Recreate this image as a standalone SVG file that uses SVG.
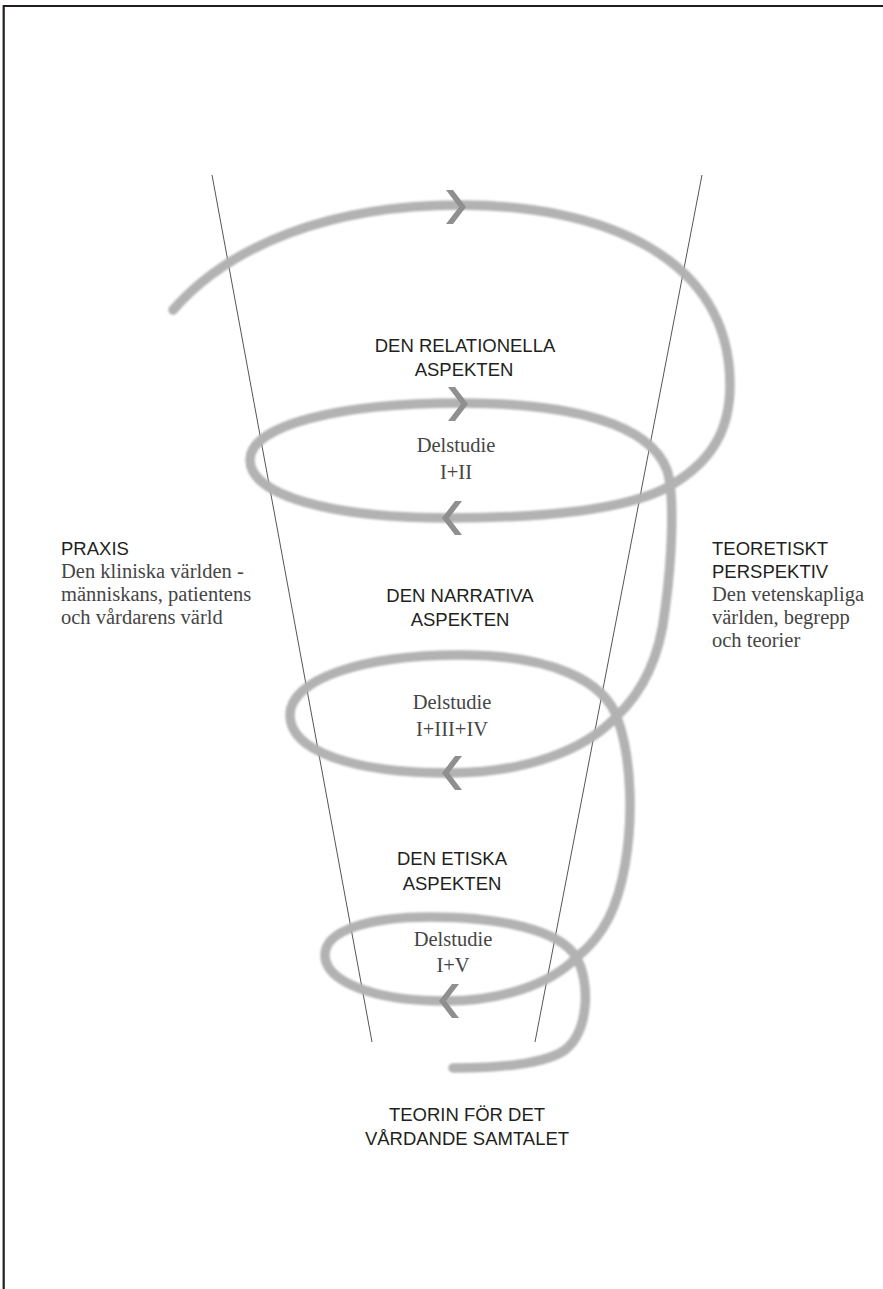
<svg xmlns="http://www.w3.org/2000/svg" xmlns:xlink="http://www.w3.org/1999/xlink" width="883" height="1289" viewBox="0 0 883 1289">
<style>
.caps{font-family:"Liberation Sans",Arial,sans-serif;font-size:18.5px;fill:#231f20}
.ser{font-family:"Liberation Serif","Times New Roman",serif;font-size:20.5px;fill:#454545}
.mid{text-anchor:middle}
.funnel{stroke:#555;stroke-width:1;fill:none}
.spiral{stroke:#b2b2b2;stroke-width:9.5;fill:none;stroke-linecap:round;filter:url(#soft)}
.chev{fill:#8f8f8f}
</style>
<defs>
<filter id="soft" x="-5%" y="-5%" width="110%" height="110%"><feGaussianBlur stdDeviation="0.8"/></filter>
<path id="chevR" d="M-10,-17 L-3,-17 L10,0 L-3,17 L-10,17 L3,0 Z"/>
</defs>
<rect width="883" height="1289" fill="#fff"/>
<path d="M3.7,1289 V6 H883" fill="none" stroke="#231f20" stroke-width="2.2"/>

<g id="connectors">
<line class="funnel" x1="212" y1="175" x2="372" y2="1042"/>
<line class="funnel" x1="702" y1="175" x2="535" y2="1042"/>
<path class="spiral" d="M173,310 C230,245 330,205 460,205 C600,205 730,255 730,385 C730,430 712,462 668,487 C625,510 540,518 450,518 C330,518 250,495 250,460 C250,425 340,403 460,403 C575,403 650,425 667,470 C675,495 672,560 665,610 C660,655 645,690 616,717 C585,750 525,773 450,773 C350,773 290,750 290,715 C290,680 360,655 460,655 C550,655 605,680 618,720 C632,760 633,820 625,865 C618,905 605,935 577,957 C550,985 500,1001 445,1001 C370,1001 325,980 325,955 C325,930 370,917 430,917 C500,917 560,930 576,957 C590,980 590,1030 565,1050 C545,1064 500,1068 453,1068"/>
<use xlink:href="#chevR" class="chev" transform="translate(456,207)"/>
<use xlink:href="#chevR" class="chev" transform="translate(458,404)"/>
<use xlink:href="#chevR" class="chev" transform="translate(452,518) scale(-1,1)"/>
<use xlink:href="#chevR" class="chev" transform="translate(452,773) scale(-1,1)"/>
<use xlink:href="#chevR" class="chev" transform="translate(449,1001) scale(-1,1)"/>
</g>

<g id="relationella">
<text class="caps mid" x="465" y="352">DEN RELATIONELLA</text>
<text class="caps mid" x="464" y="376">ASPEKTEN</text>
</g>
<g id="delstudie1">
<text class="ser mid" x="456" y="452">Delstudie</text>
<text class="ser mid" x="456" y="479">I+II</text>
</g>
<g id="praxis">
<text class="caps" x="61" y="555">PRAXIS</text>
<text class="ser" x="61" y="578">Den kliniska världen -</text>
<text class="ser" x="61" y="601">människans, patientens</text>
<text class="ser" x="61" y="624">och vårdarens värld</text>
</g>
<g id="teoretiskt">
<text class="caps" x="712" y="555">TEORETISKT</text>
<text class="caps" x="712" y="578">PERSPEKTIV</text>
<text class="ser" x="712" y="601">Den vetenskapliga</text>
<text class="ser" x="712" y="624">världen, begrepp</text>
<text class="ser" x="712" y="647">och teorier</text>
</g>
<g id="narrativa">
<text class="caps mid" x="460" y="602">DEN NARRATIVA</text>
<text class="caps mid" x="460" y="626">ASPEKTEN</text>
</g>
<g id="delstudie2">
<text class="ser mid" x="452" y="709">Delstudie</text>
<text class="ser mid" x="452" y="736">I+III+IV</text>
</g>
<g id="etiska">
<text class="caps mid" x="452" y="865">DEN ETISKA</text>
<text class="caps mid" x="452" y="890">ASPEKTEN</text>
</g>
<g id="delstudie3">
<text class="ser mid" x="453" y="946">Delstudie</text>
<text class="ser mid" x="453" y="972">I+V</text>
</g>
<g id="teorin">
<text class="caps mid" x="467" y="1121">TEORIN FÖR DET</text>
<text class="caps mid" x="467" y="1145">VÅRDANDE SAMTALET</text>
</g>
</svg>
